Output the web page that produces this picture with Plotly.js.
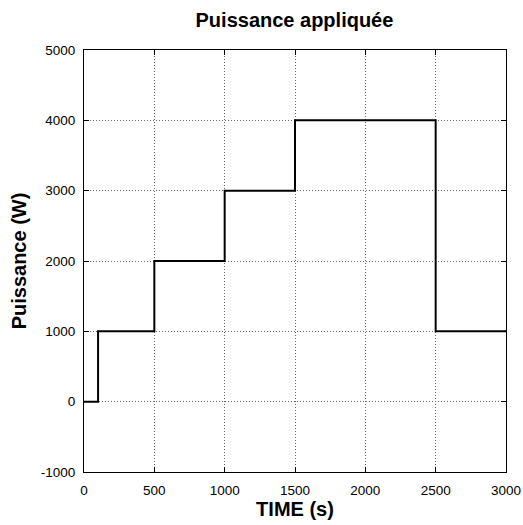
<!DOCTYPE html>
<html>
<head>
<meta charset="utf-8">
<script src="https://cdn.plot.ly/plotly-3.0.1.min.js"></script>
<style>html,body{margin:0;padding:0;background:#fff;}#chart{width:523px;height:525px;}</style>
</head>
<body>
<div id="chart"></div>
<script>
// Step profile: time (s) and applied power (W)
const timeS = [0, 100, 500, 1000, 1500, 2500, 3000];
const powerW = [0, 1000, 2000, 3000, 4000, 1000, 1000];
const xTicks = [0, 500, 1000, 1500, 2000, 2500, 3000];
const yTicks = [-1000, 0, 1000, 2000, 3000, 4000, 5000];

const FONT = 'Liberation Sans, Arial, sans-serif';

const trace = {
  x: timeS,
  y: powerW,
  type: 'scatter',
  mode: 'lines',
  line: {shape: 'hv', color: '#000000', width: 2},
  hoverinfo: 'skip'
};

const axisCommon = {
  showline: true, linecolor: '#000', linewidth: 1, mirror: 'ticks',
  ticks: 'inside', ticklen: 5, tickcolor: '#000', tickwidth: 1,
  showgrid: true, gridcolor: '#666', griddash: '1px,2px', gridwidth: 1,
  zeroline: false,
  tickfont: {family: FONT, size: 13.5, color: '#000'}
};

const layout = {
  width: 523, height: 525,
  margin: {l: 84, r: 17, t: 50, b: 53},
  paper_bgcolor: '#fff', plot_bgcolor: '#fff',
  showlegend: false,
  title: {text: 'Puissance appliquée', x: 0.563, xanchor: 'center', y: 0.961, yanchor: 'middle',
          font: {family: FONT, size: 20, color: '#000', weight: 'bold'}},
  xaxis: Object.assign({}, axisCommon, {
    range: [0, 3000], tickvals: xTicks, ticktext: xTicks.map(String),
    ticklabelstandoff: 6,
    title: {text: 'TIME (s)', standoff: 3,
            font: {family: FONT, size: 20, color: '#000', weight: 'bold'}}
  }),
  yaxis: Object.assign({}, axisCommon, {
    range: [-1000, 5000], tickvals: yTicks, ticktext: yTicks.map(String),
    ticklabelstandoff: 5,
    title: {text: 'Puissance (W)', standoff: 8,
            font: {family: FONT, size: 20, color: '#000', weight: 'bold'}}
  })
};

Plotly.newPlot('chart', [trace], layout, {displayModeBar: false, staticPlot: true});
</script>
</body>
</html>
